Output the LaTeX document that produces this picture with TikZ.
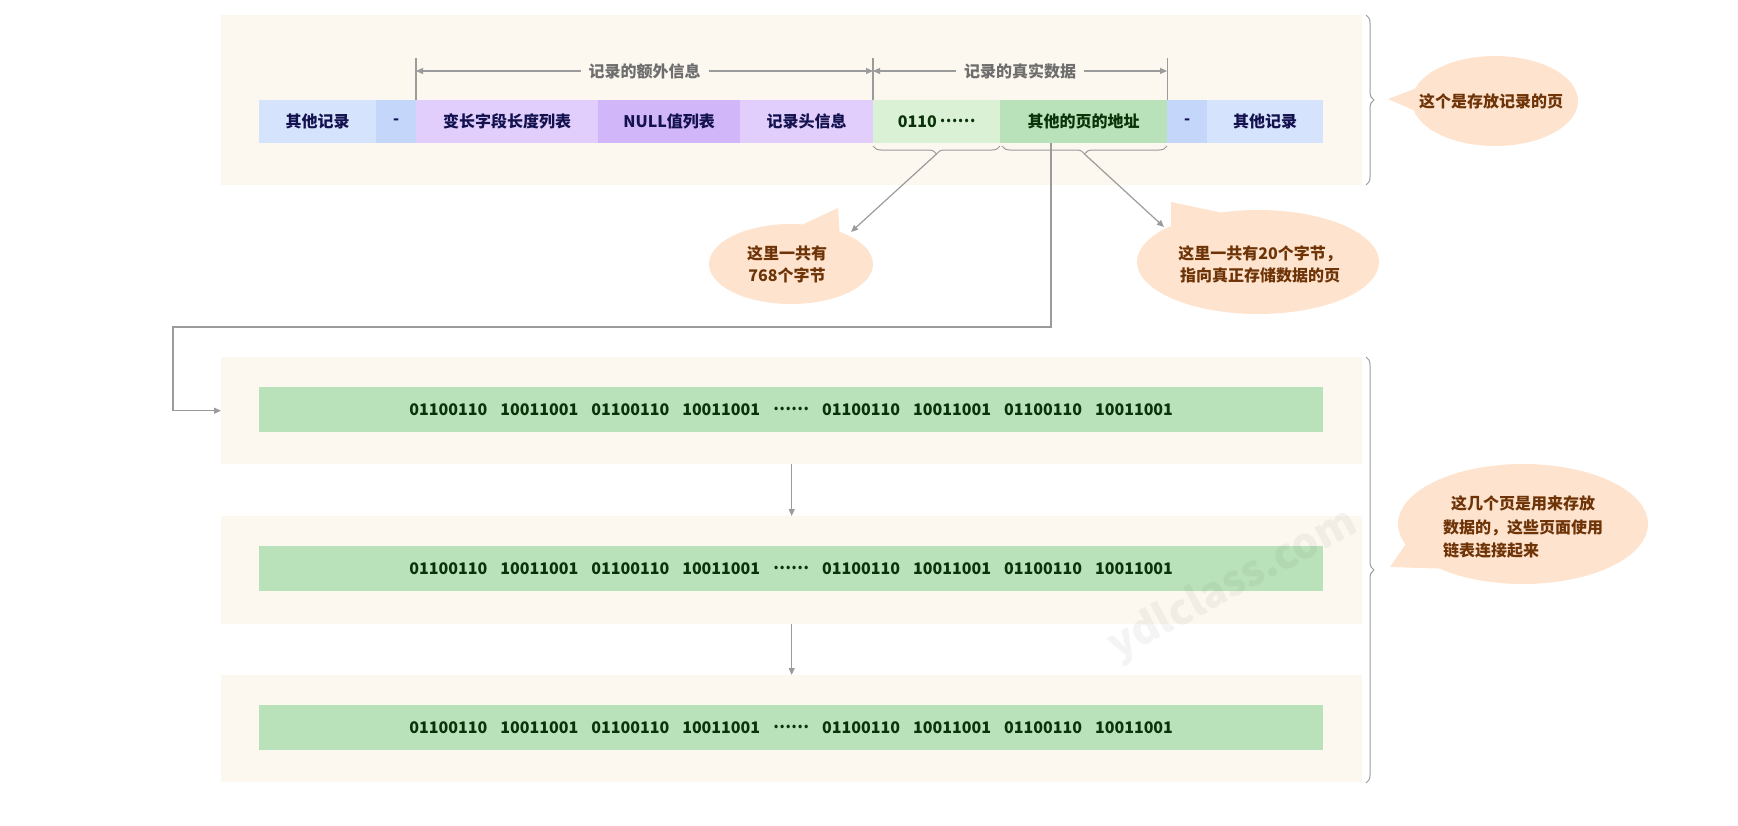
\documentclass[tikz,border=0pt]{standalone}
\usepackage{fontspec}
\setmainfont{Noto Sans CJK SC}
\usepackage{tikz}
\usetikzlibrary{decorations.pathreplacing,shapes.callouts,arrows.meta}
\definecolor{pagebg}{HTML}{FCF7EF}
\definecolor{cellblue}{HTML}{D5E3FD}
\definecolor{dashblue}{HTML}{C5D6FB}
\definecolor{cellpurple}{HTML}{E1CEFC}
\definecolor{nullpurple}{HTML}{D1B6FA}
\definecolor{datgreen}{HTML}{DAF1D6}
\definecolor{addrgreen}{HTML}{BAE2BA}
\definecolor{navytext}{HTML}{13124F}
\definecolor{greentext}{HTML}{0A330A}
\definecolor{linegray}{HTML}{9B9B9B}
\definecolor{labelgray}{HTML}{6E6E6E}
\definecolor{peach}{HTML}{FEE4CE}
\definecolor{browntext}{HTML}{6E3408}

\newcommand{\middots}{\raisebox{0.3em}{……}}
\newcommand{\bitgap}{\hspace{13pt}}
\newcommand{\bitrow}{01100110\bitgap 10011001\bitgap 01100110\bitgap 10011001\bitgap \middots\bitgap 01100110\bitgap 10011001\bitgap 01100110\bitgap 10011001}

\begin{document}
\begin{tikzpicture}[x=1pt,y=-1pt,
  font=\bfseries\fontsize{16}{22}\selectfont,
  pagebox/.style={fill=pagebg,anchor=north west,inner sep=0pt,minimum width=1141pt},
  cell/.style={anchor=west,inner sep=0pt,minimum height=43pt,text=navytext},
  bar/.style={fill=addrgreen,anchor=north west,inner sep=0pt,minimum width=1064pt,minimum height=45pt,text=greentext},
  conn/.style={draw=linegray,line width=1.2pt,-{Triangle[length=7pt,width=6pt]}},
  dimline/.style={draw=linegray,line width=1.2pt,{Triangle[length=7pt,width=6pt]}-{Triangle[length=7pt,width=6pt]}},
  dimlabel/.style={fill=pagebg,text=labelgray,inner xsep=8pt,inner ysep=2pt},
  brc/.style={draw=linegray,line width=1pt,decorate,decoration={brace,amplitude=8pt}},
  bubble/.style={ellipse callout,fill=peach,inner sep=0pt,callout pointer arc=28},
  bubtext/.style={text=browntext,align=center,inner sep=0pt}]

\useasboundingbox (0,0) rectangle (1738,825);

% the pages
\node[pagebox,minimum height=170pt] (pg0) at (221,15) {};
\node[pagebox,minimum height=107pt] (pg1) at (221,357) {};
\node[pagebox,minimum height=108pt] (pg2) at (221,516) {};
\node[pagebox,minimum height=107pt] (pg3) at (221,675) {};

% one record in the row
\node[cell,fill=cellblue,minimum width=117pt] (oth1) at (259,121.5) {其他记录};
\node[cell,fill=dashblue,minimum width=40pt] (gap1) at (376,121.5) {-};
\node[cell,fill=cellpurple,minimum width=182pt] (varlen) at (416,121.5) {变长字段长度列表};
\node[cell,fill=nullpurple,minimum width=142pt] (nulls) at (598,121.5) {NULL值列表};
\node[cell,fill=cellpurple,minimum width=133pt] (hdr) at (740,121.5) {记录头信息};
\node[cell,fill=datgreen,minimum width=127pt,text=greentext] (dat) at (873,121.5) {0110\,\middots};
\node[cell,fill=addrgreen,minimum width=167pt,text=greentext] (addr) at (1000,121.5) {其他的页的地址};
\node[cell,fill=dashblue,minimum width=40pt] (gap2) at (1167,121.5) {-};
\node[cell,fill=cellblue,minimum width=116pt] (oth2) at (1207,121.5) {其他记录};

% dimensions above the row
\draw[linegray,line width=1.2pt] (varlen.north west) -- ++(0,-42);
\draw[linegray,line width=1.2pt] (dat.north west) -- ++(0,-42);
\draw[linegray,line width=1.2pt] (addr.north east) -- ++(0,-42);
\draw[dimline] (416,71) -- (873,71) node[midway,dimlabel] (extra) {记录的额外信息};
\draw[dimline] (873,71) -- (1167,71) node[midway,dimlabel] (real) {记录的真实数据};

% braces
\draw[brc] (1000,146) -- (873,146);
\draw[brc] (1167,146) -- (1002,146);
\draw[brc] (1366,15) -- (1366,185);
\draw[brc] (1366,357) -- (1366,783);
\coordinate (tipA) at (936.5,154);
\coordinate (tipB) at (1084.5,154);

% data pages
\node[bar] (bar1) at (259,387) {\bitrow};
\node[bar] (bar2) at (259,546) {\bitrow};
\node[bar] (bar3) at (259,705) {\bitrow};

% bubbles
\node[bubble,minimum width=164pt,minimum height=80pt,callout absolute pointer={(838,208)}] (bubA) at (791,264) {};
\node[bubtext] (bubAtxt) at (787,264) {这里一共有\\768个字节};
\node[bubble,minimum width=242pt,minimum height=104pt,callout absolute pointer={(1171,202)}] (bubB) at (1258,262) {};
\node[bubtext] (bubBtxt) at (1260,264) {这里一共有20个字节，\\指向真正存储数据的页};
\node[bubble,minimum width=166pt,minimum height=90pt,callout absolute pointer={(1388,99)}] (bubC) at (1495,101) {};
\node[bubtext] (bubCtxt) at (1491,101) {这个是存放记录的页};
\node[bubble,minimum width=250pt,minimum height=120pt,callout absolute pointer={(1390,567)}] (bubD) at (1523,524) {};
\node[bubtext,align=left,font=\bfseries\fontsize{16}{23.5}\selectfont] (bubDtxt) at (1523,527) {\hspace*{8pt}这几个页是用来存放\\数据的，这些页面使用\\链表连接起来};

% arrows
\coordinate (endA) at (851,232);
\coordinate (endB) at (1164,227);
\draw[conn] (tipA) -- (endA);
\draw[conn] (tipB) -- (endB);
\coordinate (lnk) at (1051,143);
\draw[conn] (lnk) |- (173,327) |- (pg1.west);
\draw[conn] (pg1.south) -- (pg2.north);
\draw[conn] (pg2.south) -- (pg3.north);

% watermark
\node[text=black,opacity=0.045,rotate=28,font=\bfseries\fontsize{42}{42}\selectfont] (wmark) at (1233,585) {ydlclass.com};
\end{tikzpicture}
\end{document}
